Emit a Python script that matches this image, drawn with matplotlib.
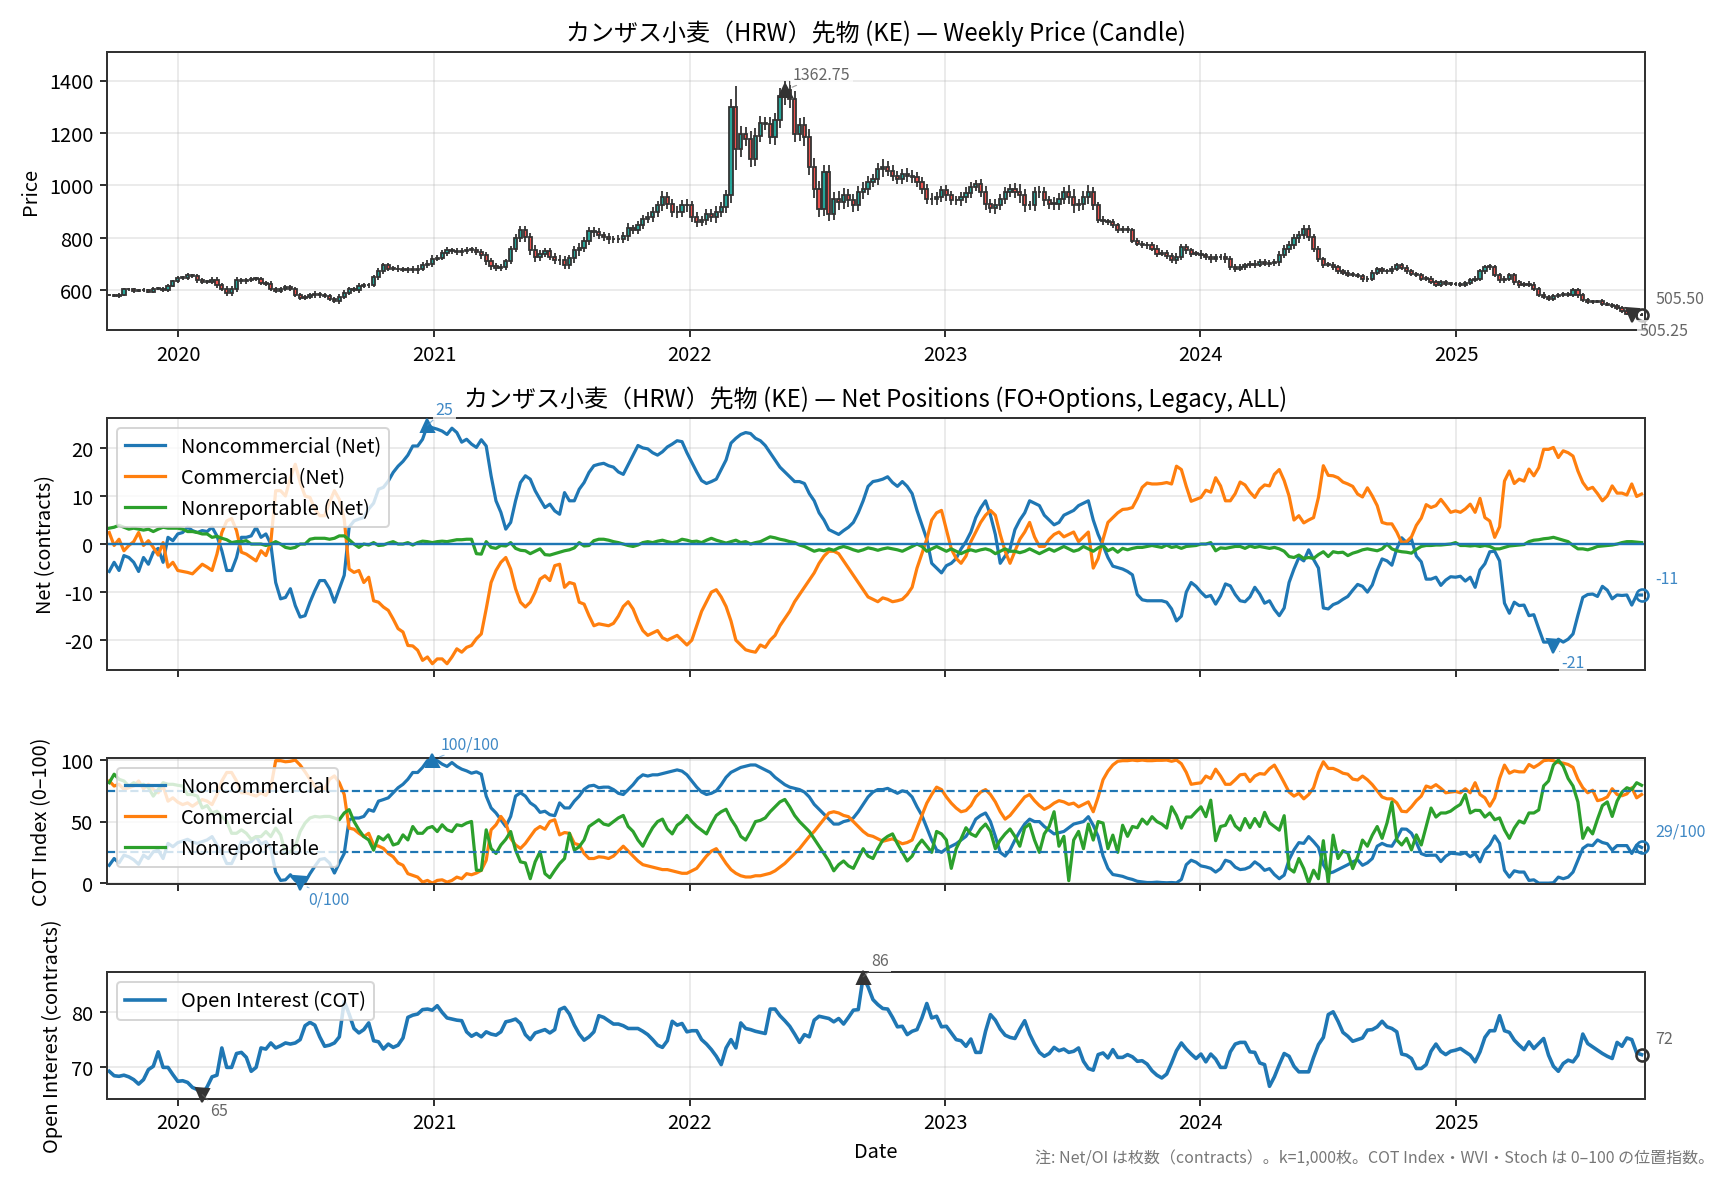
import matplotlib
matplotlib.use('Agg')
import matplotlib.pyplot as plt
import matplotlib.dates as mdates
import numpy as np
import pandas as pd

plt.rcParams['font.family'] = ['Noto Sans CJK JP', 'DejaVu Sans']
plt.rcParams['axes.edgecolor'] = '#333333'
plt.rcParams['axes.linewidth'] = 1.0
plt.rcParams['axes.unicode_minus'] = False

# weekly closes (KE)
close = [
    582, 578, 583, 604, 604, 596, 601, 600, 594, 606,
    606, 600, 617, 634, 647, 647, 657, 655, 638, 632,
    632, 641, 619, 606, 590, 604, 638, 634, 638, 644,
    644, 627, 625, 606, 596, 606, 613, 604, 583, 572,
    573, 581, 586, 581, 578, 566, 559, 575, 591, 604,
    601, 617, 619, 619, 651, 672, 695, 683, 683, 680,
    676, 680, 676, 683, 698, 702, 721, 723, 744, 752,
    749, 746, 749, 755, 755, 746, 733, 710, 693, 685,
    689, 710, 759, 799, 829, 803, 752, 727, 740, 749,
    727, 714, 717, 695, 723, 752, 761, 790, 825, 822,
    810, 803, 794, 794, 797, 807, 837, 829, 850, 873,
    879, 898, 924, 956, 930, 898, 898, 924, 924, 879,
    860, 867, 892, 879, 898, 917, 962, 1300, 1140, 1197,
    1178, 1102, 1190, 1239, 1235, 1184, 1248, 1343, 1362.75, 1330,
    1197, 1229, 1184, 1070, 987, 911, 1051, 892, 949, 937,
    962, 943, 924, 975, 987, 1013, 1025, 1063, 1070, 1057,
    1038, 1025, 1044, 1036, 1032, 1013, 987, 949, 947, 956,
    981, 962, 943, 943, 956, 972, 994, 1006, 975, 930,
    914, 926, 949, 975, 987, 975, 962, 924, 924, 975,
    975, 943, 930, 930, 949, 975, 956, 924, 930, 956,
    975, 924, 870, 863, 860, 848, 829, 835, 829, 790,
    778, 771, 773, 759, 740, 743, 731, 714, 727, 765,
    752, 740, 740, 733, 727, 718, 727, 727, 718, 689,
    683, 689, 695, 702, 698, 708, 702, 705, 708, 736,
    759, 771, 799, 810, 835, 803, 759, 718, 698, 698,
    689, 672, 667, 659, 659, 655, 642, 645, 667, 680,
    672, 672, 683, 695, 687, 672, 664, 659, 645, 645,
    632, 622, 632, 625, 625, 623, 622, 629, 638, 645,
    672, 689, 689, 657, 638, 645, 657, 632, 619, 625,
    622, 606, 583, 575, 566, 578, 581, 587, 583, 600,
    581, 562, 556, 556, 558, 549, 545, 540, 533, 520,
    511, 505.25, 507, 505.5,
]
# wick length beyond the body
wick = [
    5, 4, 6, 5, 6, 5, 4, 6, 5, 5,
    6, 5, 7, 6, 6, 8, 8, 7, 9, 8,
    7, 8, 10, 9, 10, 12, 12, 10, 9, 8,
    8, 8, 7, 9, 8, 8, 9, 8, 7, 8,
    9, 8, 10, 9, 8, 8, 9, 10, 9, 8,
    9, 10, 9, 10, 8, 12, 11, 10, 9, 12,
    8, 10, 11, 12, 10, 12, 14, 10, 9, 12,
    10, 12, 14, 10, 12, 11, 13, 12, 14, 12,
    10, 11, 10, 14, 16, 18, 16, 20, 14, 13,
    12, 15, 16, 14, 12, 18, 20, 15, 16, 18,
    14, 14, 16, 15, 14, 16, 18, 14, 15, 16,
    18, 20, 18, 22, 20, 18, 22, 20, 25, 18,
    20, 16, 18, 20, 22, 20, 22, 30, 80, 30,
    28, 30, 28, 25, 24, 26, 28, 30, 35, 35,
    30, 28, 32, 30, 35, 30, 28, 26, 25, 30,
    28, 25, 24, 22, 25, 22, 20, 24, 30, 22,
    20, 18, 20, 22, 22, 18, 20, 18, 22, 20,
    18, 20, 16, 18, 20, 22, 18, 16, 20, 22,
    20, 24, 18, 20, 18, 22, 30, 26, 18, 20,
    22, 20, 18, 25, 22, 20, 26, 30, 20, 22,
    28, 18, 14, 12, 10, 12, 10, 12, 11, 10,
    10, 9, 12, 10, 12, 10, 11, 10, 14, 10,
    12, 11, 10, 12, 10, 12, 11, 10, 14, 12,
    12, 10, 11, 10, 12, 10, 11, 12, 13, 14,
    12, 16, 14, 18, 16, 14, 12, 10, 11, 10,
    10, 9, 10, 9, 10, 8, 9, 10, 9, 8,
    9, 10, 10, 8, 9, 8, 8, 7, 8, 9,
    8, 9, 8, 7, 8, 7, 8, 8, 9, 8,
    10, 9, 10, 8, 10, 9, 8, 10, 9, 8,
    9, 10, 8, 9, 8, 8, 7, 8, 8, 10,
    9, 8, 7, 7, 6, 7, 6, 7, 7, 6,
    6, 6, 5, 5,
]

# net positions (k contracts)
nc_net = [
    -5.7, -3.8, -5.5, -2.4, -2.8, -3.8, -5.7, -2.8, -4.2, -1.7,
    -0.9, -3.8, 1.4, 0.7, 2.1, 2.4, 3.5, 2.8, 2.4, 2.8,
    2.6, 3.5, 1.7, -1.4, -5.5, -5.5, -2.8, 1.4, 1.4, 1.7,
    3.5, 1.4, 2.1, 0.0, -8.0, -11.4, -11.1, -9.3, -12.8, -15.2,
    -14.9, -12.1, -9.7, -7.6, -7.6, -9.3, -12.1, -9.3, -6.5, 3.5,
    4.8, 5.2, 5.5, 7.3, 8.5, 11.4, 11.8, 13.1, 14.9, 16.2,
    17.2, 18.5, 20.4, 20.4, 21.8, 24.7, 24.2, 23.9, 23.5, 22.8,
    24.1, 23.2, 21.2, 21.8, 20.8, 20.1, 21.7, 20.4, 14.2, 9.0,
    6.6, 3.1, 4.5, 9.0, 12.8, 14.2, 13.5, 11.1, 9.3, 7.6,
    8.3, 6.9, 6.2, 10.7, 9.0, 9.0, 11.4, 12.8, 14.9, 16.3,
    16.6, 16.8, 16.3, 16.0, 15.0, 14.5, 16.5, 18.5, 20.5, 20.0,
    19.8, 19.0, 18.5, 19.2, 20.2, 20.8, 21.5, 21.3, 19.0, 17.0,
    15.0, 13.2, 12.6, 13.0, 13.5, 15.5, 17.5, 21.0, 22.0, 22.8,
    23.2, 23.0, 22.0, 21.5, 20.5, 19.0, 17.5, 16.0, 15.0, 14.0,
    13.0, 13.0, 12.6, 10.5, 9.0, 6.5, 5.0, 3.0, 2.5, 2.0,
    2.8, 3.5, 4.5, 6.5, 9.0, 12.0, 13.0, 13.2, 13.5, 14.0,
    12.8, 12.0, 13.0, 12.0, 10.5, 7.0, 4.0, 1.0, -4.0, -5.0,
    -6.0, -4.5, -4.0, -3.0, -1.0, 0.5, 2.5, 5.5, 7.5, 9.0,
    6.0, 2.0, -4.0, -2.5, -1.0, 3.0, 5.0, 6.5, 9.0, 8.5,
    8.0, 6.0, 5.0, 4.0, 4.5, 6.0, 6.5, 7.0, 8.0, 8.5,
    9.0, 5.0, 2.0, -0.3, -2.8, -4.6, -4.9, -5.2, -5.7, -6.4,
    -10.5, -11.6, -11.8, -11.8, -11.8, -11.8, -12.1, -13.5, -16.0, -15.0,
    -10.0, -8.0, -8.8, -10.0, -11.0, -10.7, -12.5, -10.8, -8.3, -8.7,
    -10.5, -11.8, -12.0, -11.0, -9.0, -10.4, -12.3, -11.8, -13.6, -14.9,
    -13.3, -8.0, -5.2, -2.8, -3.5, -1.2, -3.2, -5.0, -13.3, -13.5,
    -12.6, -12.2, -11.5, -10.9, -9.6, -8.4, -8.8, -10.0, -8.5, -5.5,
    -3.1, -3.5, -4.4, -1.0, 1.3, 0.3, 1.0, -2.5, -3.7, -7.3,
    -7.3, -6.9, -8.6, -7.5, -6.8, -6.9, -6.7, -7.7, -6.9, -9.0,
    -5.4, -4.1, -1.6, -1.5, -3.5, -12.3, -14.4, -12.1, -12.8, -12.7,
    -14.9, -14.7, -17.6, -20.4, -20.4, -21.3, -19.8, -20.4, -19.8, -18.7,
    -14.8, -11.1, -10.5, -10.4, -10.9, -8.8, -9.6, -11.4, -10.6, -10.7,
    -10.6, -12.7, -10.6, -10.6,
]
cm_net = [
    2.4, -0.3, 1.0, -1.4, -0.3, 0.5, 2.4, -0.3, 0.7, -0.7,
    -2.3, 0.3, -4.8, -3.8, -5.5, -5.7, -5.9, -6.2, -5.2, -4.2,
    -4.8, -5.5, -2.1, 2.4, 4.8, 5.3, 2.8, -1.7, -2.1, -2.8,
    -3.5, -1.4, -2.4, 0.3, 11.1, 11.1, 10.0, 13.8, 16.6, 12.8,
    10.0, 9.7, 7.3, 5.9, 5.9, 8.7, 11.1, 9.3, 5.2, -5.2,
    -5.9, -5.5, -8.0, -6.9, -11.8, -12.1, -13.1, -13.8, -15.6, -17.6,
    -18.3, -21.1, -21.2, -22.1, -24.2, -23.5, -24.9, -23.9, -23.9, -24.9,
    -23.5, -21.8, -22.5, -21.5, -21.1, -19.7, -18.7, -13.5, -8.0, -5.5,
    -3.8, -2.8, -5.2, -9.3, -12.1, -13.1, -12.1, -10.0, -7.3, -6.6,
    -7.6, -4.5, -4.2, -9.0, -8.0, -8.3, -12.1, -12.5, -14.9, -17.0,
    -16.6, -16.8, -17.0, -16.5, -15.0, -13.0, -12.0, -13.5, -16.0, -18.0,
    -19.0, -18.5, -18.0, -19.5, -20.0, -19.5, -19.0, -20.0, -21.0, -20.0,
    -17.0, -14.0, -12.0, -10.0, -9.5, -11.0, -13.0, -16.0, -20.0, -21.0,
    -22.0, -22.3, -22.5, -21.0, -21.5, -20.0, -19.0, -17.0, -15.5, -14.0,
    -12.0, -10.5, -9.0, -7.5, -6.0, -4.0, -2.5, -1.5, -1.5, -2.0,
    -3.5, -5.0, -6.5, -8.0, -9.5, -11.0, -11.5, -12.0, -11.2, -11.5,
    -12.0, -11.8, -11.5, -10.5, -9.0, -5.0, -2.0, 1.0, 5.0, 6.5,
    7.0, 3.0, -1.0, -3.0, -4.0, -2.5, 0.5, 2.5, 4.5, 6.0,
    7.0, 6.0, 2.0, -1.5, -4.0, -1.5, 1.0, 2.5, 4.5, 1.5,
    -0.5, -0.5, 1.0, 2.0, 2.5, 1.5, 2.0, 2.5, 0.5, 1.5,
    2.5, -5.0, -3.0, 1.0, 4.5, 5.5, 6.5, 7.2, 7.3, 7.6,
    9.5, 11.8, 12.7, 12.5, 12.5, 12.6, 12.8, 12.5, 16.2, 15.5,
    12.0, 8.9, 9.3, 9.7, 11.2, 10.8, 13.8, 12.1, 9.0, 9.0,
    10.5, 12.9, 12.3, 10.8, 9.7, 11.4, 12.3, 12.1, 14.5, 15.5,
    13.2, 10.0, 5.0, 5.9, 4.4, 5.0, 5.5, 9.7, 16.3, 14.3,
    14.2, 13.8, 12.9, 12.5, 12.0, 10.4, 9.8, 11.7, 10.0, 8.0,
    4.5, 4.2, 4.2, 2.5, 0.3, 0.5, 1.5, 3.9, 5.4, 8.2,
    7.6, 8.0, 9.3, 8.0, 6.6, 6.9, 6.6, 7.3, 8.3, 6.6,
    9.5, 5.5, 4.8, 1.4, 3.6, 13.1, 15.2, 12.6, 13.5, 13.1,
    15.6, 14.2, 15.9, 19.7, 19.7, 20.1, 18.0, 19.4, 19.0, 18.3,
    15.2, 12.8, 11.4, 11.8, 10.5, 9.0, 10.0, 12.1, 10.6, 10.6,
    10.2, 12.5, 9.9, 10.4,
]
nr_net = [
    3.3, 3.5, 3.9, 3.5, 3.1, 3.3, 3.1, 2.9, 3.1, 2.6,
    3.1, 3.5, 3.3, 3.3, 3.3, 3.1, 2.6, 2.6, 2.4, 2.1,
    2.1, 1.4, 1.6, 1.2, 0.9, 0.3, 0.5, 0.5, 0.7, 0.0,
    0.0, 0.0, -0.3, 0.0, 0.5, 0.0, -0.7, -0.9, -0.7, 0.0,
    0.0, 1.0, 1.2, 1.2, 1.2, 1.0, 1.2, 1.7, 1.7, 0.9,
    0.0, -0.7, 0.0, -0.2, 0.3, -0.3, -0.2, 0.2, 0.5, 0.0,
    0.0, 0.3, -0.2, 0.3, 0.6, 0.5, 0.3, 0.5, 0.6, 0.5,
    0.7, 0.9, 0.9, 1.0, 1.0, -2.0, -2.1, 0.5, -0.7, -0.9,
    -0.3, -0.4, 0.3, -0.9, -1.3, -1.4, -2.0, -1.5, -1.0, -2.2,
    -2.3, -2.0, -1.7, -1.4, -1.2, -0.8, 0.3, -0.4, -0.3, 0.7,
    1.0, 1.0, 0.8, 0.5, 0.3, 0.0, -0.3, -0.5, -0.2, 0.3,
    0.5, 0.3, 0.6, 0.8, 0.5, 0.3, 0.5, 1.0, 0.8, 0.5,
    0.6, 0.3, 0.8, 1.2, 0.8, 0.5, 0.2, 0.5, 0.8, 0.3,
    0.5, 0.0, 0.3, 0.5, 1.0, 1.5, 1.3, 1.0, 0.8, 0.5,
    0.3, -0.2, -0.5, -1.0, -1.5, -1.2, -1.4, -1.0, -1.3, -0.8,
    -0.5, -0.8, -1.2, -1.5, -1.2, -0.8, -1.0, -1.3, -1.0, -0.8,
    -1.0, -1.2, -1.5, -1.0, -0.5, 0.0, -0.5, -1.5, -1.0, -0.5,
    -1.0, -1.5, -1.0, -1.5, -2.0, -1.5, -1.2, -1.5, -1.2, -1.0,
    -1.3, -2.0, -1.5, -1.0, -1.5, -1.5, -1.8, -1.5, -1.0, -1.5,
    -2.0, -1.5, -1.0, -1.5, -1.0, -0.5, -1.0, -1.5, -1.2, -0.5,
    -1.0, -1.5, -0.8, -0.3, -1.4, -0.9, -1.7, -0.9, -1.2, -0.9,
    -0.7, -0.7, -0.5, -0.3, -0.5, -0.7, -0.2, -0.7, -0.5, -0.9,
    -0.5, -0.4, -0.3, 0.0, 0.0, 0.3, -1.4, -0.8, -0.9, -0.7,
    -0.5, -0.5, -0.9, -0.4, -0.7, -0.5, -0.7, -0.9, -0.7, -1.0,
    -1.5, -2.6, -2.8, -2.3, -3.0, -2.8, -3.0, -2.2, -1.6, -2.6,
    -1.6, -1.8, -1.7, -2.4, -1.9, -1.6, -1.2, -1.0, -1.2, -1.4,
    -1.0, 0.0, -1.0, -1.4, -1.6, -1.7, -1.9, -1.1, -0.5, -0.3,
    -0.3, -0.2, -0.2, -0.1, 0.0, 0.3, -0.3, -0.3, -0.4, -0.3,
    -0.5, -0.3, -0.5, -1.0, -1.0, -0.7, -0.4, -0.3, -0.2, -0.1,
    0.5, 0.8, 0.9, 1.1, 1.2, 1.4, 1.1, 0.8, 0.5, -0.3,
    -1.0, -1.0, -1.2, -0.9, -0.5, -0.4, -0.3, -0.2, 0.0, 0.3,
    0.5, 0.5, 0.4, 0.3,
]

# COT index (0-100)
nc_idx = [
    14.5, 20.0, 16.4, 22.7, 21.4, 19.0, 15.3, 22.7, 20.0, 25.5,
    26.8, 20.0, 32.3, 29.6, 32.9, 34.2, 35.6, 33.4, 32.3, 33.7,
    35.1, 37.8, 31.0, 24.7, 15.9, 15.9, 24.1, 33.7, 32.3, 33.7,
    37.8, 31.8, 33.7, 28.2, 9.0, 2.2, 2.7, 6.8, 2.2, 0.0,
    0.8, 7.7, 13.7, 19.2, 20.0, 16.4, 8.2, 16.4, 24.1, 51.5,
    52.9, 52.9, 54.2, 59.7, 58.4, 66.6, 67.9, 69.3, 73.4, 77.5,
    80.3, 84.4, 89.9, 89.9, 94.0, 99.5, 100.0, 99.5, 96.7, 94.8,
    98.0, 94.8, 92.6, 91.2, 89.3, 90.4, 88.5, 70.7, 61.1, 57.0,
    51.5, 46.0, 54.2, 70.7, 73.4, 70.7, 65.2, 62.5, 57.5, 58.4,
    55.6, 54.8, 65.2, 61.1, 61.1, 66.6, 70.7, 76.2, 78.9, 79.5,
    77.5, 78, 78, 76, 73, 72, 76, 80, 85, 88,
    87, 88, 88, 89, 90, 91, 92, 91, 88, 83,
    78, 74, 72, 73, 75, 80, 86, 90, 92, 94,
    95, 96, 96, 94, 92, 90, 86, 83, 80, 78,
    77, 76, 74, 70, 64, 60, 56, 52, 48, 48,
    50, 51, 53, 58, 64, 70, 74, 76, 76, 77,
    75, 73, 75, 74, 70, 62, 55, 45, 35, 27,
    25, 28, 30, 32, 35, 38, 44, 52, 55, 57,
    50, 38, 25, 22, 27, 35, 42, 48, 52, 50,
    50, 46, 43, 40, 41, 42, 45, 48, 49, 50,
    54, 47, 38, 22, 12, 7, 6.3, 5.5, 4, 3,
    1.5, 1, 0.5, 0.5, 0.8, 0.5, 0.3, 0.5, 0.2, 3,
    15, 18.6, 17, 14, 13.2, 12, 9, 11.8, 18.6, 17.3,
    13, 11, 11.5, 13.2, 17.3, 14.5, 10.4, 11.8, 7, 3.6,
    6.5, 19, 27, 32.9, 32.3, 37.8, 33.7, 29, 15, 8,
    9, 11, 13, 15, 17.3, 19, 14.5, 16.5, 20, 30,
    32.3, 30.5, 30, 36.4, 44, 43.8, 40.5, 33, 24, 22.5,
    22.7, 22.7, 17.5, 21.9, 24.3, 24, 23.5, 24.7, 21.4, 24.1,
    17.3, 26.8, 31, 38.4, 32.3, 10.4, 4.9, 10, 9, 9,
    2.2, 2.7, 0, 0, 0, 0.3, 4.9, 3.6, 4.9, 9,
    18.6, 28.2, 31, 30.5, 35.1, 33, 32, 26.8, 30.5, 30.5,
    30.5, 24.1, 31, 29,
]
cm_idx = [
    83.0, 78.9, 80.3, 76.2, 77.5, 78.9, 83.0, 76.7, 80.3, 76.2,
    73.4, 78.9, 66.6, 69.3, 65.8, 63.8, 65.2, 62.5, 65.2, 67.9,
    66.6, 63.8, 72.0, 83.0, 89.9, 89.9, 83.0, 73.4, 73.4, 72.0,
    70.7, 73.4, 71.2, 77.5, 99.5, 99.5, 98.6, 99.0, 100.0, 95.9,
    90.4, 84.4, 78.9, 76.2, 76.2, 84.4, 87.1, 81.6, 72.0, 44.7,
    43.8, 40.5, 37.8, 40.5, 31.0, 30.1, 28.2, 24.1, 21.4, 16.4,
    14.5, 7.7, 6.3, 4.9, 0.8, 2.2, 0.0, 2.2, 2.7, 0.8,
    2.2, 4.9, 3.6, 7.7, 6.8, 8.2, 10.4, 18.6, 43.3, 47.4,
    54.2, 48.8, 36.4, 31.0, 28.2, 32.3, 37.8, 43.3, 46.0, 43.8,
    50.1, 51.5, 39.2, 41.1, 40.5, 32.3, 31.0, 24.1, 20.0, 20.0,
    21.4, 21, 20, 22, 26, 30, 26, 22, 18, 15,
    14, 13, 12, 11, 11, 10, 9, 8, 8, 10,
    12, 17, 22, 26, 28, 22, 16, 11, 8, 6,
    5, 5, 6, 6, 7, 8, 10, 13, 16, 20,
    24, 28, 33, 38, 42, 47, 52, 57, 58, 57,
    55, 54, 50, 46, 42, 39, 38, 36, 34, 35,
    36, 34, 32, 33, 35, 45, 55, 65, 72, 78,
    76, 70, 65, 61, 58, 59, 63, 70, 74, 76,
    72, 66, 58, 52, 55, 60, 65, 70, 72, 67,
    63, 60, 62, 65, 67, 66, 64, 65, 62, 64,
    66, 58, 70, 84, 91, 96, 99, 99.5, 99.5, 100,
    99.5, 100, 99.5, 99.5, 99.8, 99.8, 100, 99, 100, 97,
    90, 80.3, 81, 81.5, 87, 85, 92.6, 87, 80.3, 80.3,
    84, 88, 88.5, 82.5, 87, 89, 88.5, 93, 95.9, 89,
    81.6, 74, 70.7, 73, 68.5, 72, 77.5, 90, 98.6, 93.2,
    93.2, 91.5, 89.3, 88.5, 84.5, 83.8, 87, 84, 80, 75,
    70, 68.5, 68.5, 65.2, 58.4, 58, 62, 67, 70.7, 78.9,
    77.5, 80, 77, 73.4, 74, 74.5, 73.4, 76.7, 73.4, 81.6,
    72, 69.3, 62.5, 69.3, 85, 95.9, 89.3, 91.2, 90.4, 90.4,
    96.4, 94, 96.4, 99.5, 100, 99.5, 98, 97.5, 96.4, 94,
    84.4, 77.5, 73.4, 75.5, 67, 68, 70, 76.7, 72, 71,
    72.5, 77.5, 69.3, 72,
]
nr_idx = [
    81.6, 88.5, 84.4, 83.0, 78.9, 81.6, 79.5, 80.3, 77.5, 70.7,
    76.2, 81.6, 80.3, 80.3, 79.5, 78.9, 72.0, 72.0, 70.7, 61.1,
    63.0, 57.0, 58.4, 54.2, 50.1, 40.5, 40.5, 43.3, 40.5, 35.6,
    37.8, 37.8, 41.9, 37.8, 44.7, 39.2, 24.1, 25.5, 29.6, 41.9,
    48.8, 52.9, 54.2, 53.7, 54.2, 54.2, 52.9, 51.5, 57.0, 59.7,
    50.1, 43.3, 37.8, 35.1, 26.8, 37.8, 35.1, 39.2, 31.0, 32.3,
    39.2, 35.1, 46.0, 40.5, 40.5, 44.7, 46.0, 41.9, 47.4, 43.3,
    41.9, 47.4, 46.6, 48.8, 50.1, 10.4, 10.4, 43.3, 28.2, 24.1,
    31.0, 35.6, 41.9, 26.8, 17.3, 16.4, 3.6, 17.3, 25.5, 7.7,
    4.4, 10.4, 15.9, 20.0, 40.5, 26.8, 29.6, 35.1, 46.0, 48.8,
    51.5, 48, 47, 50, 53, 55, 46, 42, 35, 30,
    38, 45, 50, 52, 44, 40, 47, 50, 55, 50,
    46, 43, 40, 48, 55, 58, 60, 52, 46, 38,
    35, 42, 50, 51, 53, 58, 62, 66, 68, 62,
    55, 50, 46, 42, 36, 30, 24, 18, 10, 15,
    18, 14, 12, 20, 28, 22, 20, 28, 35, 38,
    40, 32, 25, 18, 22, 30, 35, 30, 25, 42,
    40, 35, 12, 28, 36, 45, 40, 38, 44, 48,
    42, 28, 35, 40, 44, 38, 30, 45, 48, 35,
    25, 40, 46, 58, 30, 38, 2, 35, 42, 28,
    48, 35, 50, 48.8, 28, 39, 25, 47, 38, 46,
    45, 52, 48, 54, 50, 48, 44.7, 62, 55, 44.7,
    53.7, 53.7, 58, 62, 54, 67.4, 34.5, 46, 47, 54.8,
    46.5, 43, 52.5, 45, 52.5, 46, 57.5, 49, 46, 43,
    54.8, 12, 9, 20, 11.8, 0, 10.5, 3.6, 34.5, 0,
    39, 20, 26.3, 24.5, 11.8, 21.4, 35, 30, 39, 46,
    36.4, 48.8, 65.8, 35.1, 31, 36.4, 27, 39.2, 31, 46,
    61, 53.7, 57, 57, 58.5, 61.5, 64, 72, 57, 59.2,
    59, 53.7, 57, 51.5, 53, 43.3, 36.4, 44.7, 50.5, 48.8,
    57, 57, 59.5, 79, 83, 96, 100, 95, 85, 78.9,
    66, 36.4, 45, 40, 52, 63, 66, 54.2, 66.6, 74,
    77.5, 76, 81.6, 79.5,
]

# open interest (k contracts)
oi = [
    69.3, 68.5, 68.4, 68.6, 68.3, 67.8, 67.0, 67.8, 69.6, 70.2,
    72.8, 70.0, 70.0, 68.7, 67.5, 67.6, 67.3, 66.4, 66.0, 65.1,
    66.5, 68.3, 68.6, 73.5, 70.0, 70.0, 72.5, 72.7, 71.8, 69.3,
    70.0, 73.5, 73.3, 74.4, 73.5, 73.9, 74.4, 74.2, 74.4, 75.0,
    77.5, 78.1, 77.6, 75.5, 73.8, 74.0, 74.4, 75.5, 81.9, 79.6,
    77.0, 76.2, 76.8, 78.0, 74.8, 74.6, 73.3, 74.2, 73.6, 74.0,
    75.3, 79.0, 79.4, 79.6, 80.4, 80.5, 80.3, 81.1, 79.9, 78.9,
    78.7, 78.5, 78.4, 76.4, 75.6, 76.1, 75.5, 76.4, 76.0, 75.8,
    76.4, 78.2, 78.4, 78.7, 77.9, 75.9, 75.0, 76.2, 76.5, 76.8,
    76.2, 76.8, 80.4, 80.8, 79.6, 77.6, 76.0, 74.9, 75.5, 76.4,
    79.3, 79.0, 78.4, 77.8, 77.8, 77.5, 77.0, 77.0, 77.0, 76.5,
    75.9, 75.0, 74.0, 73.6, 74.8, 78.3, 77.6, 77.9, 76.4, 76.6,
    76.6, 75.0, 74.2, 73.2, 72.0, 70.5, 73.5, 75.0, 73.5, 78.0,
    77.0, 76.8, 76.5, 76.3, 76.1, 80.5, 80.5, 79.3, 78.4, 77.4,
    76.0, 74.5, 75.9, 75.5, 78.5, 79.2, 79.0, 78.8, 78.2, 78.8,
    77.8, 79.0, 80.3, 80.4, 86.3, 84.5, 82.2, 81.3, 80.6, 80.5,
    79.0, 77.3, 77.4, 75.9, 76.5, 76.8, 78.9, 81.5, 78.9, 79.2,
    77.3, 77.4, 76.2, 75.0, 74.8, 73.8, 75.1, 72.7, 72.7, 76.5,
    79.5, 78.5, 76.9, 75.8, 75.4, 75.2, 76.9, 78.4, 76.0, 74.2,
    72.7, 72.0, 72.5, 73.6, 73.0, 73.3, 72.7, 72.9, 73.5, 71.1,
    69.8, 69.5, 72.3, 72.6, 71.7, 73.2, 71.8, 71.8, 72.3, 71.9,
    71.1, 71.2, 70.6, 69.4, 68.6, 68.1, 68.8, 70.8, 73.0, 74.4,
    73.3, 72.4, 71.6, 72.4, 71.0, 72.4, 71.5, 70.0, 70.0, 72.8,
    74.2, 74.5, 74.5, 72.8, 72.7, 70.8, 70.5, 66.6, 68.3, 70.5,
    72.5, 72.0, 70.2, 69.2, 69.2, 69.2, 71.8, 74.1, 75.4, 79.5,
    80.0, 78.3, 76.3, 75.6, 74.7, 75.0, 75.3, 76.7, 76.8, 77.3,
    78.3, 77.3, 77.0, 76.4, 72.4, 72.2, 71.6, 69.8, 69.8, 70.5,
    72.9, 74.2, 72.9, 72.3, 72.9, 73.1, 73.4, 72.8, 72.2, 71.0,
    72.8, 75.4, 76.6, 76.6, 79.3, 76.6, 76.3, 74.9, 74.0, 73.2,
    74.6, 73.4, 74.3, 75.2, 72.2, 70.2, 69.3, 70.7, 71.3, 71.0,
    72.2, 76.0, 74.3, 73.7, 73.1, 72.5, 72.0, 71.6, 74.5, 73.8,
    75.3, 75.0, 72.6, 72.3,
]

series = dict(wick=wick, nc_net=nc_net, cm_net=cm_net, nr_net=nr_net,
              nc_idx=nc_idx, cm_idx=cm_idx, nr_idx=nr_idx, oi=oi)
bad = {k: len(v) for k, v in series.items() if len(v) != len(close)}
if bad:
    raise ValueError(f'len(close)={len(close)} mismatch: {bad}')

dates = pd.date_range('2019-09-24', periods=len(close), freq='7D')

c = np.array(close, float)
o = np.r_[c[0], c[:-1]]
w = np.array(wick, float)
hi = np.maximum(o, c) + w
lo = np.minimum(o, c) - w

BLUE_TXT = '#3f88c5'
GRAY_TXT = '#666666'
EDGE = '#333333'


def tag(ax, vals, i, text, marker, mcolor, tcolor, dy):
    x, y = dates[i], vals[i]
    ax.plot([x], [y], marker=marker, color=mcolor, ms=6.5, zorder=6, clip_on=False)
    ax.annotate(text, (x, y), xytext=(4, dy), textcoords='offset points',
                ha='left', va='center', fontsize=8, color=tcolor, zorder=7,
                annotation_clip=False,
                bbox=dict(boxstyle='square,pad=0.15', fc='white', ec='none', alpha=0.75),
                arrowprops=dict(arrowstyle='-', color=tcolor, lw=0.6, alpha=0.6,
                                shrinkA=0, shrinkB=4))


def last_tag(ax, vals, text, mcolor, tcolor):
    x, y = dates[-1], vals[-1]
    ax.plot([x], [y], marker='o', ms=6, mfc='none', mec=mcolor, mew=1.3,
            zorder=6, clip_on=False)
    ax.annotate(text, (x, y), xytext=(7, 8), textcoords='offset points',
                ha='left', va='center', fontsize=8, color=tcolor,
                annotation_clip=False)


fig, axes = plt.subplots(4, 1, figsize=(12, 8.2), dpi=144, sharex=True,
                         gridspec_kw={'height_ratios': [2.2, 2, 1, 1], 'hspace': 0.45})
fig.subplots_adjust(left=0.062, right=0.952, top=0.955, bottom=0.069)
ax1, ax2, ax3, ax4 = axes

# --- price candles
up = c >= o
ax1.vlines(dates, lo, hi, color=EDGE, linewidth=0.9, zorder=2)
ax1.bar(dates, np.maximum(np.abs(c - o), 2.0), bottom=np.minimum(o, c), width=4.6,
        color=np.where(up, '#26a69a', '#ef5350'), edgecolor=EDGE,
        linewidth=0.9, zorder=3)
ax1.set_ylim(449, 1508)
ax1.set_ylabel('Price')
ax1.set_title('カンザス小麦（HRW）先物 (KE) — Weekly Price (Candle)', fontsize=12)
imax, imin = int(np.argmax(c)), int(np.argmin(c))
tag(ax1, c, imax, f'{c[imax]:.2f}', '^', EDGE, GRAY_TXT, 8)
tag(ax1, c, imin, f'{c[imin]:.2f}', 'v', EDGE, GRAY_TXT, -8)
last_tag(ax1, c, f'{c[-1]:.2f}', EDGE, GRAY_TXT)
ax1.tick_params(labelbottom=True)

# --- net positions
nc = np.array(nc_net)
ax2.plot(dates, nc, color='C0', lw=1.6, label='Noncommercial (Net)')
ax2.plot(dates, cm_net, color='C1', lw=1.6, label='Commercial (Net)')
ax2.plot(dates, nr_net, color='C2', lw=1.6, label='Nonreportable (Net)')
ax2.axhline(0, color='C0', lw=1.2)
ax2.set_ylim(-26.25, 26.25)
ax2.set_ylabel('Net (contracts)')
ax2.set_title('カンザス小麦（HRW）先物 (KE) — Net Positions (FO+Options, Legacy, ALL)',
              fontsize=12)
ax2.legend(loc='upper left', fontsize=10, framealpha=0.8)
jmax, jmin = int(np.argmax(nc)), int(np.argmin(nc))
tag(ax2, nc, jmax, f'{nc[jmax]:.0f}', '^', 'C0', BLUE_TXT, 8)
tag(ax2, nc, jmin, f'{nc[jmin]:.0f}', 'v', 'C0', BLUE_TXT, -8)
last_tag(ax2, nc, f'{nc[-1]:.0f}', 'C0', BLUE_TXT)

# --- COT index
ni = np.array(nc_idx)
ax3.plot(dates, ni, color='C0', lw=1.6, label='Noncommercial')
ax3.plot(dates, cm_idx, color='C1', lw=1.6, label='Commercial')
ax3.plot(dates, nr_idx, color='C2', lw=1.6, label='Nonreportable')
ax3.axhline(75, color='C0', lw=1.1, ls='--')
ax3.axhline(25, color='C0', lw=1.1, ls='--')
ax3.set_ylim(-1, 101.5)
ax3.set_yticks([0, 50, 100])
ax3.set_ylabel('COT Index (0–100)')
ax3.legend(loc='upper left', fontsize=10, framealpha=0.8)
jmax, jmin = int(np.argmax(ni)), int(np.argmin(ni))
tag(ax3, ni, jmax, f'{ni[jmax]:.0f}/100', '^', 'C0', BLUE_TXT, 8)
tag(ax3, ni, jmin, f'{ni[jmin]:.0f}/100', 'v', 'C0', BLUE_TXT, -8)
last_tag(ax3, ni, f'{ni[-1]:.0f}/100', 'C0', BLUE_TXT)

# --- open interest
oa = np.array(oi)
ax4.plot(dates, oa, color='C0', lw=1.8, label='Open Interest (COT)')
ax4.set_ylim(64.4, 87.1)
ax4.set_yticks([70, 80])
ax4.set_ylabel('Open Interest (contracts)')
ax4.set_xlabel('Date')
ax4.legend(loc='upper left', fontsize=10, framealpha=0.8)
jmax, jmin = int(np.argmax(oa)), int(np.argmin(oa))
tag(ax4, oa, jmax, f'{oa[jmax]:.0f}', '^', EDGE, GRAY_TXT, 8)
tag(ax4, oa, jmin, f'{oa[jmin]:.0f}', 'v', EDGE, GRAY_TXT, -8)
last_tag(ax4, oa, f'{oa[-1]:.0f}', EDGE, GRAY_TXT)

for ax in axes:
    ax.grid(True, alpha=0.3)
    ax.set_axisbelow(True)
ax4.set_xlim(dates[0] - pd.Timedelta(days=3), dates[-1] + pd.Timedelta(days=5))
ax4.xaxis.set_major_locator(mdates.YearLocator())
ax4.xaxis.set_major_formatter(mdates.DateFormatter('%Y'))

fig.text(0.992, 0.019,
         '注: Net/OI は枚数（contracts）。k=1,000枚。COT Index・WVI・Stoch は 0–100 の位置指数。',
         ha='right', va='center', fontsize=8, color='#777777')

fig.savefig('out.png', dpi=144)
